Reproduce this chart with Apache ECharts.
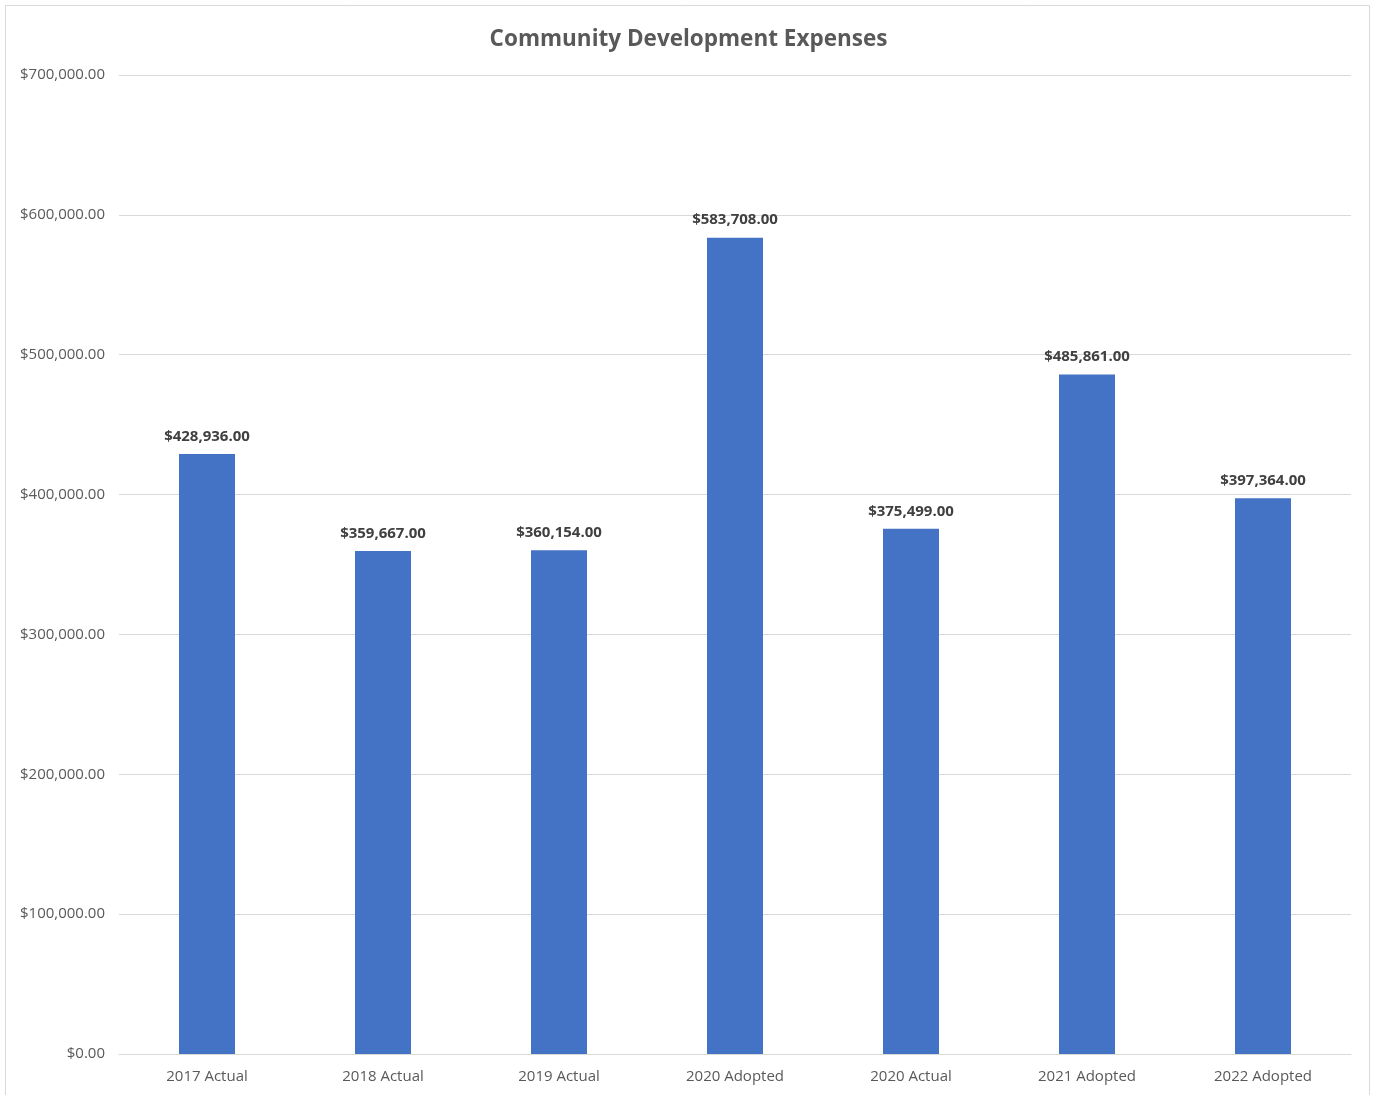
<!DOCTYPE html>
<html>
<head>
<meta charset="utf-8">
<script src="https://cdn.jsdelivr.net/npm/echarts@6/dist/echarts.min.js"></script>
<style>
  html, body { margin: 0; padding: 0; background: #fff; }
  #chart { width: 1377px; height: 1095px; }
</style>
</head>
<body>
<div id="chart"></div>
<script>
// Expense totals by budget period
const categories = ['2017 Actual', '2018 Actual', '2019 Actual', '2020 Adopted', '2020 Actual', '2021 Adopted', '2022 Adopted'];
const expenses = [428936, 359667, 360154, 583708, 375499, 485861, 397364];
const yTicks = [0, 100000, 200000, 300000, 400000, 500000, 600000, 700000];

const money = v => '$' + Number(v).toLocaleString('en-US', { minimumFractionDigits: 2, maximumFractionDigits: 2 });
const font = '"Open Sans", "Liberation Sans", sans-serif';

const chart = echarts.init(document.getElementById('chart'), null, { renderer: 'canvas' });
chart.setOption({
  animation: false,
  backgroundColor: '#ffffff',
  title: {
    text: 'Community Development Expenses',
    left: 'center',
    top: 23,
    textStyle: { fontFamily: font, fontSize: 22.5, fontWeight: 'bold', color: '#595959' }
  },
  graphic: [{
    type: 'rect',
    shape: { x: 5.5, y: 5.5, width: 1364, height: 1110 },
    style: { fill: 'none', stroke: '#d9d9d9', lineWidth: 1 },
    silent: true
  }],
  grid: { left: 119, right: 26, top: 75, bottom: 41, containLabel: false },
  xAxis: {
    type: 'category',
    data: categories,
    axisLine: { lineStyle: { color: '#d9d9d9', width: 1 } },
    axisTick: { show: false },
    axisLabel: { fontFamily: font, fontSize: 15, color: '#595959', margin: 15 }
  },
  yAxis: {
    type: 'value',
    min: yTicks[0],
    max: yTicks[yTicks.length - 1],
    interval: yTicks[1] - yTicks[0],
    axisLine: { show: false },
    axisTick: { show: false },
    splitLine: { lineStyle: { color: '#d9d9d9', width: 1 } },
    axisLabel: { fontFamily: font, fontSize: 15, color: '#595959', margin: 14, formatter: money }
  },
  series: [{
    type: 'bar',
    data: expenses,
    barWidth: 56,
    itemStyle: { color: '#4472C4' },
    label: {
      show: true,
      position: 'top',
      distance: 10,
      fontFamily: font,
      fontSize: 15,
      fontWeight: 'bold',
      color: '#404040',
      formatter: p => money(p.value)
    }
  }]
});
</script>
</body>
</html>
